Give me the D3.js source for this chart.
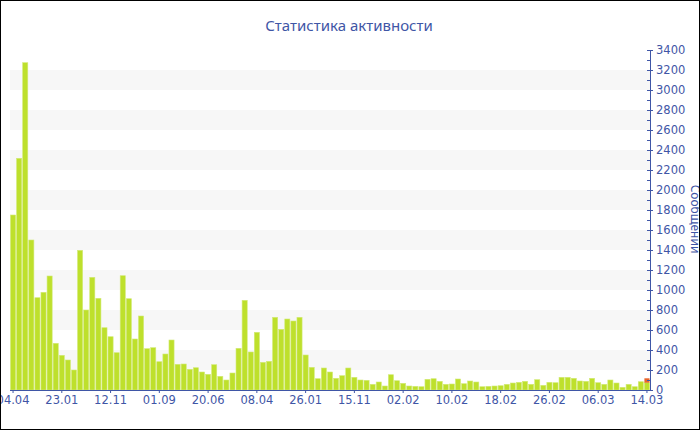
<!DOCTYPE html>
<html>
<head>
<meta charset="utf-8">
<script src="https://cdn.jsdelivr.net/npm/d3@7"></script>
<style>
	body { margin: 0; background: #fff; }
	svg { display: block; }
</style>
</head>
<body>
<div id="chart"></div>
<script>
( function () {
	'use strict';

	// messages per period, oldest first (last one stacked: green + orange)
	var counts = [
		1750, 2317, 3273, 1500, 923, 977, 1140, 467, 347, 300,
		200, 1397, 800, 1127, 917, 623, 533, 373, 1143, 913,
		510, 740, 413, 423, 283, 360, 500, 257, 260, 207,
		223, 180, 157, 253, 137, 100, 170, 417, 897, 380,
		577, 277, 287, 727, 607, 710, 690, 727, 350, 227,
		113, 220, 180, 117, 143, 220, 127, 100, 97, 57,
		80, 40, 153, 93, 67, 40, 37, 33, 107, 113,
		87, 57, 60, 110, 63, 90, 80, 33, 37, 40,
		43, 57, 70, 77, 87, 57, 103, 47, 77, 73,
		127, 127, 117, 90, 87, 117, 73, 57, 100, 70,
		27, 57, 33, 83, 73
	];
	var extra = [];
	counts.forEach(function (d, i) { extra.push(i === counts.length - 1 ? 44 : 0); });

	var tickLabels = ['04.04', '23.01', '12.11', '01.09', '20.06', '08.04', '26.01',
		'15.11', '02.02', '10.02', '18.02', '26.02', '06.03', '14.03'];
	var tickEvery = 8;

	var yMax = 3400;
	var title = 'Статистика активности';
	var yTitle = 'Сообщений';

	var width = 700, height = 430;
	var blue = '#3f56a6';
	var labelFont = 'DejaVu Sans, Verdana, sans-serif';

	var svg = d3.select('#chart')
		.append('svg')
		.attr('width', width)
		.attr('height', height);

	var x = d3.scaleBand()
		.domain(d3.range(counts.length))
		.range([10, 650])
		.paddingInner(0.16)
		.paddingOuter(0.08);

	var y = d3.scaleLinear()
		.domain([0, yMax])
		.range([390, 50]);

	// striped background
	svg.append('g')
		.selectAll('rect')
		.data(d3.range(200, yMax, 400))
		.enter()
		.append('rect')
		.attr('x', 10)
		.attr('width', 640)
		.attr('y', function (d) { return y(d + 200); })
		.attr('height', function (d) { return y(d) - y(d + 200); })
		.attr('fill', '#f7f7f7');

	var bars = svg.append('g');

	bars.selectAll('rect.main')
		.data(counts)
		.enter()
		.append('rect')
		.attr('class', 'main')
		.attr('x', function (d, i) { return x(i); })
		.attr('width', x.bandwidth())
		.attr('y', function (d) { return y(d); })
		.attr('height', function (d) { return y(0) - y(d); })
		.attr('fill', '#bee02c')
		.attr('stroke', '#d2ea78')
		.attr('stroke-width', 0.6);

	bars.selectAll('rect.extra')
		.data(extra)
		.enter()
		.filter(function (d) { return d > 0; })
		.append('rect')
		.attr('class', 'extra')
		.attr('x', function () { return x(counts.length - 1); })
		.attr('width', x.bandwidth())
		.attr('y', function (d) { return y(counts[counts.length - 1] + d); })
		.attr('height', function (d) { return y(0) - y(d); })
		.attr('fill', '#e8642c');

	// x axis
	var xTicks = d3.range(0, counts.length, tickEvery);
	var xAxis = d3.axisBottom(x)
		.tickValues(xTicks)
		.tickSize(3)
		.tickPadding(3)
		.tickFormat(function (d) { return tickLabels[d / tickEvery]; });

	var gx = svg.append('g')
		.attr('transform', 'translate(0,390)')
		.call(xAxis);
	gx.select('.domain').attr('d', 'M10,0.5H650').attr('stroke', blue);
	gx.selectAll('.tick line').attr('stroke', blue);
	gx.selectAll('.tick text')
		.attr('fill', blue)
		.style('font-family', labelFont)
		.style('font-size', '11.5px');

	// y axis, minor ticks first
	svg.append('g')
		.attr('transform', 'translate(650,0)')
		.call(d3.axisRight(y).ticks(34).tickSize(0).tickFormat(''))
		.call(function (g) {
			g.select('.domain').remove();
			g.selectAll('.tick line')
				.attr('x1', -3)
				.attr('x2', 0)
				.attr('stroke', blue);
		});

	var gy = svg.append('g')
		.attr('transform', 'translate(650,0)')
		.call(d3.axisRight(y)
			.tickValues(d3.range(0, yMax + 1, 200))
			.tickFormat(d3.format('d'))
			.tickSize(3)
			.tickPadding(3));
	gy.select('.domain').attr('d', 'M0.5,50V390').attr('stroke', blue);
	gy.selectAll('.tick line').attr('x1', -2).attr('stroke', blue);
	gy.selectAll('.tick text')
		.attr('fill', blue)
		.style('font-family', labelFont)
		.style('font-size', '11.5px');

	svg.append('text')
		.attr('transform', 'translate(691,219) rotate(90)')
		.attr('text-anchor', 'middle')
		.attr('fill', blue)
		.style('font-family', 'Noto Sans, sans-serif')
		.style('font-size', '12px')
		.text(yTitle);

	svg.append('text')
		.attr('x', 349)
		.attr('y', 31)
		.attr('text-anchor', 'middle')
		.attr('fill', blue)
		.style('font-family', 'Noto Sans, sans-serif')
		.style('font-size', '15px')
		.text(title);

	svg.append('rect')
		.attr('x', 0.5)
		.attr('y', 0.5)
		.attr('width', width - 1)
		.attr('height', height - 1)
		.attr('fill', 'none')
		.attr('stroke', '#000');
}() );
</script>
</body>
</html>
